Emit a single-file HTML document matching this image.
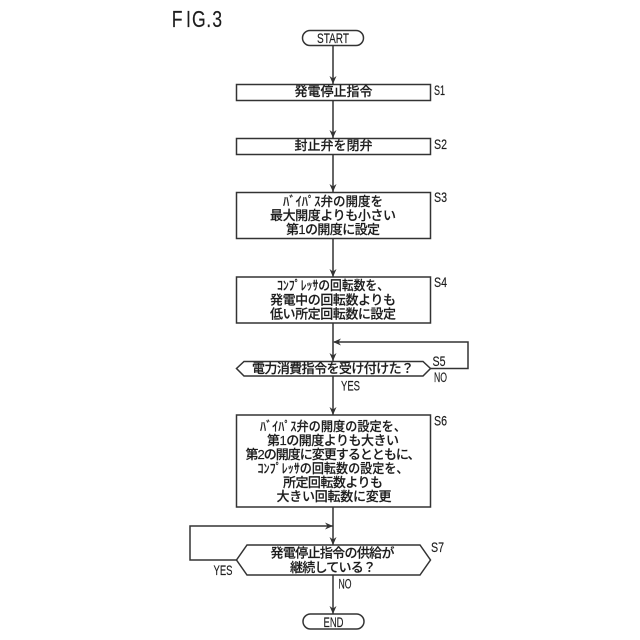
<!DOCTYPE html>
<html><head><meta charset="utf-8"><style>
html,body{margin:0;padding:0;background:#fff}
svg{display:block}
text{font-family:"Liberation Sans","Noto Sans CJK JP",sans-serif;fill:#1c1c1c;stroke:#1c1c1c;stroke-width:.15;text-anchor:middle}
.t{font-size:13px;font-weight:500}
.l{font-size:13.5px;text-anchor:start}
</style></head><body>
<svg width="640" height="640" viewBox="0 0 640 640" xmlns="http://www.w3.org/2000/svg">
<g fill="none" stroke="#333" stroke-width="1.5">
<rect x="302.5" y="30.5" width="61" height="15" rx="7.5"/>
<rect x="236.5" y="84.5" width="194" height="16"/>
<rect x="236.5" y="138.5" width="194" height="16"/>
<rect x="236.5" y="192.5" width="194" height="46"/>
<rect x="236.5" y="277" width="194" height="46"/>
<polygon points="244,361.5 423,361.5 430.5,368.5 423,376 244,376 236.5,368.5"/>
<rect x="236.5" y="415" width="194" height="92"/>
<polygon points="247,545 420,545 430.5,560 420,575 247,575 236.5,560"/>
<rect x="303" y="614" width="61" height="15" rx="7.5"/>
<path d="M333 46V84M333 101V138M333 155V192M333 239V277M333 323V361M333 376V415M333 507V545M333 575V614"/>
<path d="M430.5 368.5H468V342H334"/>
<path d="M236.5 560H190V526H333"/>
</g>
<g fill="#333">
<path d="M329.5 76L333 84L336.5 76L333 78.5Z"/>
<path d="M329.5 130L333 138L336.5 130L333 132.5Z"/>
<path d="M329.5 184L333 192L336.5 184L333 186.5Z"/>
<path d="M329.5 269L333 277L336.5 269L333 271.5Z"/>
<path d="M329.5 353L333 361L336.5 353L333 355.5Z"/>
<path d="M329.5 407L333 415L336.5 407L333 409.5Z"/>
<path d="M329.5 537L333 545L336.5 537L333 539.5Z"/>
<path d="M329.5 606L333 614L336.5 606L333 608.5Z"/>
<path d="M341 338.5L333 342L341 345.5L338.5 342Z"/>
<path d="M325 522.5L333 526L325 529.5L327.5 526Z"/>
</g>
<text transform="translate(0,27) scale(.75,1)" x="229 248 256 275 283" y="0" style="font-size:23.5px;text-anchor:start">FIG.3</text>
<text class="l" style="text-anchor:middle" x="333" y="43" textLength="32" lengthAdjust="spacingAndGlyphs">START</text>
<text class="t" x="333.5" y="96" textLength="78" lengthAdjust="spacing">発電停止指令</text>
<text class="t" x="333.5" y="150" textLength="78" lengthAdjust="spacing">封止弁を閉弁</text>
<text class="t" x="333" y="206" textLength="100" lengthAdjust="spacingAndGlyphs">ﾊﾞｲﾊﾟｽ弁の開度を</text>
<text class="t" x="333" y="220" textLength="126" lengthAdjust="spacing">最大開度よりも小さい</text>
<text class="t" x="333" y="234" textLength="94" lengthAdjust="spacing">第1の開度に設定</text>
<text class="t" x="333" y="290" textLength="112" lengthAdjust="spacingAndGlyphs">ｺﾝﾌﾟﾚｯｻの回転数を、</text>
<text class="t" x="333" y="304.5" textLength="126" lengthAdjust="spacing">発電中の回転数よりも</text>
<text class="t" x="333" y="318.5" textLength="126" lengthAdjust="spacing">低い所定回転数に設定</text>
<text class="t" x="333" y="373" textLength="162" lengthAdjust="spacing">電力消費指令を受け付けた？</text>
<text class="t" x="333" y="431" textLength="146" lengthAdjust="spacingAndGlyphs">ﾊﾞｲﾊﾟｽ弁の開度の設定を、</text>
<text class="t" x="333" y="445" textLength="132" lengthAdjust="spacing">第1の開度よりも大きい</text>
<text class="t" x="333" y="459" textLength="175" lengthAdjust="spacing">第2の開度に変更するとともに、</text>
<text class="t" x="333" y="473" textLength="151" lengthAdjust="spacingAndGlyphs">ｺﾝﾌﾟﾚｯｻの回転数の設定を、</text>
<text class="t" x="333" y="487" textLength="100" lengthAdjust="spacing">所定回転数よりも</text>
<text class="t" x="334" y="501" textLength="115" lengthAdjust="spacing">大きい回転数に変更</text>
<text class="t" x="332.5" y="557.5" textLength="124" lengthAdjust="spacing">発電停止指令の供給が</text>
<text class="t" x="333" y="572" textLength="86" lengthAdjust="spacing">継続している？</text>
<text class="l" style="text-anchor:middle" x="333.5" y="627" textLength="20" lengthAdjust="spacingAndGlyphs">END</text>
<text class="l" x="434" y="95" textLength="11" lengthAdjust="spacingAndGlyphs">S1</text>
<text class="l" x="434" y="149" textLength="13" lengthAdjust="spacingAndGlyphs">S2</text>
<text class="l" x="434" y="202" textLength="13" lengthAdjust="spacingAndGlyphs">S3</text>
<text class="l" x="434" y="287" textLength="13" lengthAdjust="spacingAndGlyphs">S4</text>
<text class="l" x="432.5" y="366" textLength="13" lengthAdjust="spacingAndGlyphs">S5</text>
<text class="l" x="434" y="382" textLength="13" lengthAdjust="spacingAndGlyphs">NO</text>
<text class="l" x="341" y="390.5" textLength="19" lengthAdjust="spacingAndGlyphs">YES</text>
<text class="l" x="434" y="425.5" textLength="13" lengthAdjust="spacingAndGlyphs">S6</text>
<text class="l" x="431" y="552" textLength="13" lengthAdjust="spacingAndGlyphs">S7</text>
<text class="l" x="213.5" y="575" textLength="19" lengthAdjust="spacingAndGlyphs">YES</text>
<text class="l" x="338.5" y="588.5" textLength="13" lengthAdjust="spacingAndGlyphs">NO</text>
</svg>
</body></html>
